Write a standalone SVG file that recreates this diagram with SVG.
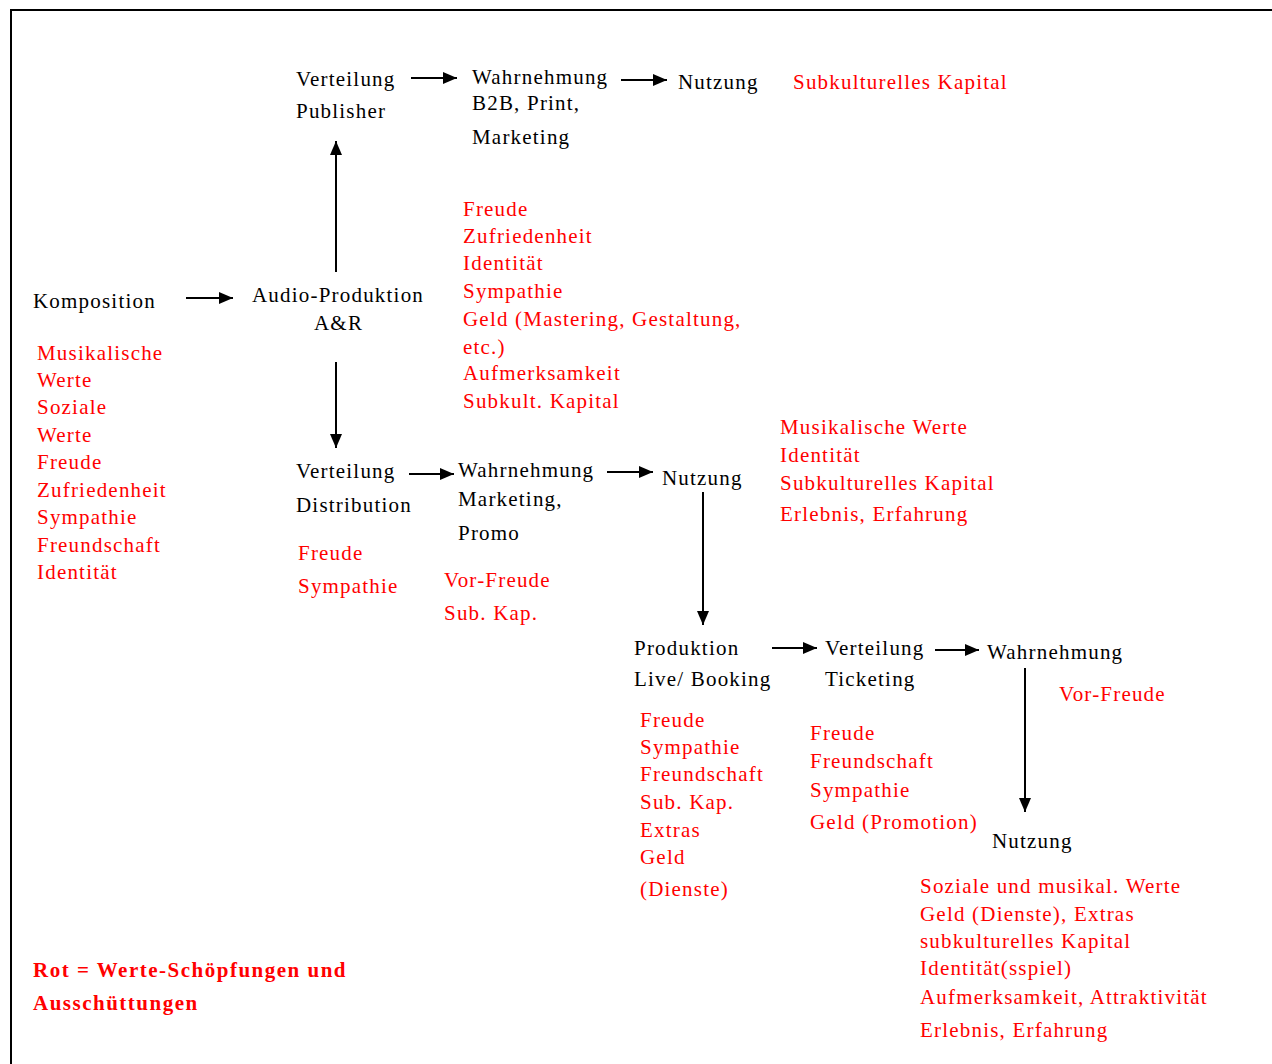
<svg xmlns="http://www.w3.org/2000/svg" width="1272" height="1064" viewBox="0 0 1272 1064">
  <style>
    text { font-family: "Liberation Serif", "Times New Roman", serif; font-size: 21px; letter-spacing: 1.2px; fill: #000; }
    .red { fill: #ff0000; }
    .legend { fill: #ff0000; font-weight: bold; letter-spacing: 1.5px; }
    .conn { stroke: #000; stroke-width: 2; fill: none; marker-end: url(#arrow); }
  </style>
  <defs>
    <marker id="arrow" viewBox="0 0 14 12" refX="14" refY="6" markerWidth="14" markerHeight="12" markerUnits="userSpaceOnUse" orient="auto">
      <path d="M0,0 L14,6 L0,12 Z" fill="#000"/>
    </marker>
  </defs>
  <rect width="1272" height="1064" fill="#fff"/>
  <!-- frame -->
  <path d="M11,1064 V10 H1272" stroke="#000" stroke-width="2" fill="none"/>

  <g id="connectors">
    <line class="conn" x1="186" y1="298" x2="233" y2="298"/>
    <line class="conn" x1="336" y1="272" x2="336" y2="141"/>
    <line class="conn" x1="336" y1="362" x2="336" y2="448"/>
    <line class="conn" x1="411" y1="78" x2="457" y2="78"/>
    <line class="conn" x1="621" y1="80" x2="667" y2="80"/>
    <line class="conn" x1="409" y1="474" x2="454" y2="474"/>
    <line class="conn" x1="607" y1="472" x2="653" y2="472"/>
    <line class="conn" x1="703" y1="492" x2="703" y2="625"/>
    <line class="conn" x1="772" y1="648" x2="817" y2="648"/>
    <line class="conn" x1="935" y1="650" x2="979" y2="650"/>
    <line class="conn" x1="1025" y1="668" x2="1025" y2="812"/>
  </g>

  <g id="komposition">
    <text x="33" y="308">Komposition</text>
    <text class="red" x="37" y="360">Musikalische</text>
    <text class="red" x="37" y="387">Werte</text>
    <text class="red" x="37" y="414">Soziale</text>
    <text class="red" x="37" y="442">Werte</text>
    <text class="red" x="37" y="469">Freude</text>
    <text class="red" x="37" y="497">Zufriedenheit</text>
    <text class="red" x="37" y="524">Sympathie</text>
    <text class="red" x="37" y="552">Freundschaft</text>
    <text class="red" x="37" y="579">Identität</text>
  </g>

  <g id="audio-produktion">
    <text x="252" y="302">Audio-Produktion</text>
    <text x="314" y="330">A&amp;R</text>
    <text class="red" x="463" y="216">Freude</text>
    <text class="red" x="463" y="243">Zufriedenheit</text>
    <text class="red" x="463" y="270">Identität</text>
    <text class="red" x="463" y="298">Sympathie</text>
    <text class="red" x="463" y="326">Geld (Mastering, Gestaltung,</text>
    <text class="red" x="463" y="354">etc.)</text>
    <text class="red" x="463" y="380">Aufmerksamkeit</text>
    <text class="red" x="463" y="408">Subkult. Kapital</text>
  </g>

  <g id="verteilung-publisher">
    <text x="296" y="86">Verteilung</text>
    <text x="296" y="118">Publisher</text>
  </g>

  <g id="wahrnehmung-b2b">
    <text x="472" y="84">Wahrnehmung</text>
    <text x="472" y="110">B2B, Print,</text>
    <text x="472" y="144">Marketing</text>
  </g>

  <g id="nutzung-publisher">
    <text x="678" y="89">Nutzung</text>
    <text class="red" x="793" y="89">Subkulturelles Kapital</text>
  </g>

  <g id="verteilung-distribution">
    <text x="296" y="478">Verteilung</text>
    <text x="296" y="512">Distribution</text>
    <text class="red" x="298" y="560">Freude</text>
    <text class="red" x="298" y="593">Sympathie</text>
  </g>

  <g id="wahrnehmung-marketing">
    <text x="458" y="477">Wahrnehmung</text>
    <text x="458" y="506">Marketing,</text>
    <text x="458" y="540">Promo</text>
    <text class="red" x="444" y="587">Vor-Freude</text>
    <text class="red" x="444" y="620">Sub. Kap.</text>
  </g>

  <g id="nutzung-distribution">
    <text x="662" y="485">Nutzung</text>
    <text class="red" x="780" y="434">Musikalische Werte</text>
    <text class="red" x="780" y="462">Identität</text>
    <text class="red" x="780" y="490">Subkulturelles Kapital</text>
    <text class="red" x="780" y="521">Erlebnis, Erfahrung</text>
  </g>

  <g id="produktion-live">
    <text x="634" y="655">Produktion</text>
    <text x="634" y="686">Live/ Booking</text>
    <text class="red" x="640" y="727">Freude</text>
    <text class="red" x="640" y="754">Sympathie</text>
    <text class="red" x="640" y="781">Freundschaft</text>
    <text class="red" x="640" y="809">Sub. Kap.</text>
    <text class="red" x="640" y="837">Extras</text>
    <text class="red" x="640" y="864">Geld</text>
    <text class="red" x="640" y="896">(Dienste)</text>
  </g>

  <g id="verteilung-ticketing">
    <text x="825" y="655">Verteilung</text>
    <text x="825" y="686">Ticketing</text>
    <text class="red" x="810" y="740">Freude</text>
    <text class="red" x="810" y="768">Freundschaft</text>
    <text class="red" x="810" y="797">Sympathie</text>
    <text class="red" x="810" y="829">Geld (Promotion)</text>
  </g>

  <g id="wahrnehmung-live">
    <text x="987" y="659">Wahrnehmung</text>
    <text class="red" x="1059" y="701">Vor-Freude</text>
  </g>

  <g id="nutzung-live">
    <text x="992" y="848">Nutzung</text>
    <text class="red" x="920" y="893">Soziale und musikal. Werte</text>
    <text class="red" x="920" y="921">Geld (Dienste), Extras</text>
    <text class="red" x="920" y="948">subkulturelles Kapital</text>
    <text class="red" x="920" y="975">Identität(sspiel)</text>
    <text class="red" x="920" y="1004">Aufmerksamkeit, Attraktivität</text>
    <text class="red" x="920" y="1037">Erlebnis, Erfahrung</text>
  </g>

  <g id="legende">
    <text class="legend" x="33" y="977">Rot = Werte-Schöpfungen und</text>
    <text class="legend" x="33" y="1010">Ausschüttungen</text>
  </g>
</svg>
